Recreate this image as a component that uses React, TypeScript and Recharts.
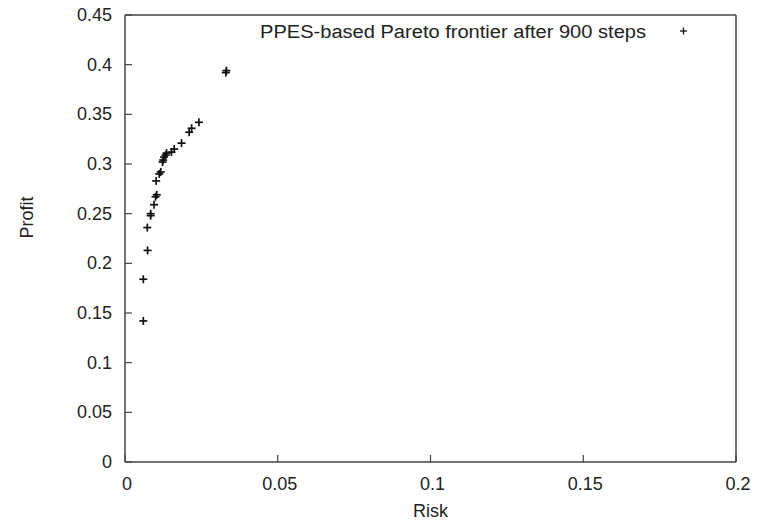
import React from 'react';
import { ScatterChart, Scatter, XAxis, YAxis } from 'recharts';

// values
const risk = [
  0.006, 0.006, 0.0074, 0.0073, 0.0084, 0.0084, 0.0095, 0.01, 0.0104, 0.0102,
  0.0112, 0.0117, 0.0123, 0.0125, 0.0128, 0.0133, 0.0136, 0.0152, 0.0161, 0.0185,
  0.021, 0.0218, 0.0242, 0.033, 0.0332,
];
const profit = [
  0.142, 0.184, 0.213, 0.236, 0.248, 0.25, 0.259, 0.267, 0.269, 0.283,
  0.29, 0.292, 0.302, 0.304, 0.307, 0.309, 0.311, 0.312, 0.315, 0.321,
  0.332, 0.336, 0.342, 0.392, 0.394,
];
const xTicks = [0, 0.05, 0.1, 0.15, 0.2];
const yTicks = [0, 0.05, 0.1, 0.15, 0.2, 0.25, 0.3, 0.35, 0.4, 0.45];
const seriesName = 'PPES-based Pareto frontier after 900 steps';

const data = risk.map((r, i) => ({ risk: r, profit: profit[i] }));

const FONT = '"Liberation Sans", Arial, sans-serif';
const INK = '#222';
const FRAME = '#444';
const TICK_LEN = 7;

const Plus = (props: any) => {
  const { cx, cy } = props;
  if (cx == null || cy == null) return null;
  return (
    <g stroke="#111" strokeWidth={1.7}>
      <line x1={cx - 4} x2={cx + 4} y1={cy} y2={cy} />
      <line x1={cx} x2={cx} y1={cy - 4} y2={cy + 4} />
    </g>
  );
};

const BottomTick = (props: any) => {
  const { x, y, payload } = props;
  return (
    <g>
      <line x1={x} x2={x} y1={y} y2={y - TICK_LEN} stroke={FRAME} strokeWidth={1.2} />
      <text x={x + 2} y={y + 28} textAnchor="middle" fill={INK} fontSize={18} fontFamily={FONT}>
        {String(payload.value)}
      </text>
    </g>
  );
};

const TopTick = (props: any) => {
  const { x, y } = props;
  return <line x1={x} x2={x} y1={y} y2={y + TICK_LEN} stroke={FRAME} strokeWidth={1.2} />;
};

const LeftTick = (props: any) => {
  const { x, y, payload } = props;
  return (
    <g>
      <line x1={x} x2={x + TICK_LEN} y1={y} y2={y} stroke={FRAME} strokeWidth={1.2} />
      <text x={x - 13} y={y + 6} textAnchor="end" fill={INK} fontSize={18} fontFamily={FONT}>
        {String(payload.value)}
      </text>
    </g>
  );
};

const RightTick = (props: any) => {
  const { x, y } = props;
  return <line x1={x} x2={x - TICK_LEN} y1={y} y2={y} stroke={FRAME} strokeWidth={1.2} />;
};

const App: React.FC = () => {
  return (
    <div style={{ position: 'absolute', left: 0, top: 0, width: 761, height: 527, background: '#fff' }}>
      <ScatterChart
        width={761}
        height={527}
        margin={{ top: 14, right: 24, bottom: 15, left: 65 }}
        style={{ fontFamily: FONT }}
      >
        <XAxis
          xAxisId="bottom"
          type="number"
          dataKey="risk"
          domain={[0, 0.2]}
          ticks={xTicks}
          interval={0}
          height={50}
          tickSize={0}
          tickMargin={0}
          tick={<BottomTick />}
          axisLine={{ stroke: FRAME, strokeWidth: 1.5 }}
          label={{ value: 'Risk', position: 'insideBottom', offset: -5, fill: INK, fontSize: 18, fontFamily: FONT }}
        />
        <XAxis
          xAxisId="top"
          orientation="top"
          type="number"
          dataKey="risk"
          domain={[0, 0.2]}
          ticks={xTicks}
          interval={0}
          height={1}
          tickSize={0}
          tickMargin={0}
          tick={<TopTick />}
          axisLine={{ stroke: FRAME, strokeWidth: 1.5 }}
        />
        <YAxis
          yAxisId="left"
          type="number"
          dataKey="profit"
          domain={[0, 0.45]}
          ticks={yTicks}
          interval={0}
          width={60}
          tickSize={0}
          tickMargin={0}
          tick={<LeftTick />}
          axisLine={{ stroke: FRAME, strokeWidth: 1.5 }}
          label={{ value: 'Profit', angle: -90, position: 'insideLeft', offset: -38, fill: INK, fontSize: 18, fontFamily: FONT }}
        />
        <YAxis
          yAxisId="right"
          orientation="right"
          type="number"
          dataKey="profit"
          domain={[0, 0.45]}
          ticks={yTicks}
          interval={0}
          width={1}
          tickSize={0}
          tickMargin={0}
          tick={<RightTick />}
          axisLine={{ stroke: FRAME, strokeWidth: 1.5 }}
        />
        <Scatter
          name={seriesName}
          data={data}
          xAxisId="bottom"
          yAxisId="left"
          shape={<Plus />}
          isAnimationActive={false}
        />
      </ScatterChart>
      <svg
        width={761}
        height={527}
        style={{ position: 'absolute', left: 0, top: 0, pointerEvents: 'none' }}
      >
        <text
          x={260}
          y={38}
          fill={INK}
          fontSize={18}
          fontFamily={FONT}
          textLength={386}
          lengthAdjust="spacingAndGlyphs"
        >
          {seriesName}
        </text>
        <g stroke="#111" strokeWidth={1.3}>
          <line x1={680} x2={687} y1={31} y2={31} />
          <line x1={683.5} x2={683.5} y1={27.5} y2={34.5} />
        </g>
      </svg>
    </div>
  );
};

export default App;
